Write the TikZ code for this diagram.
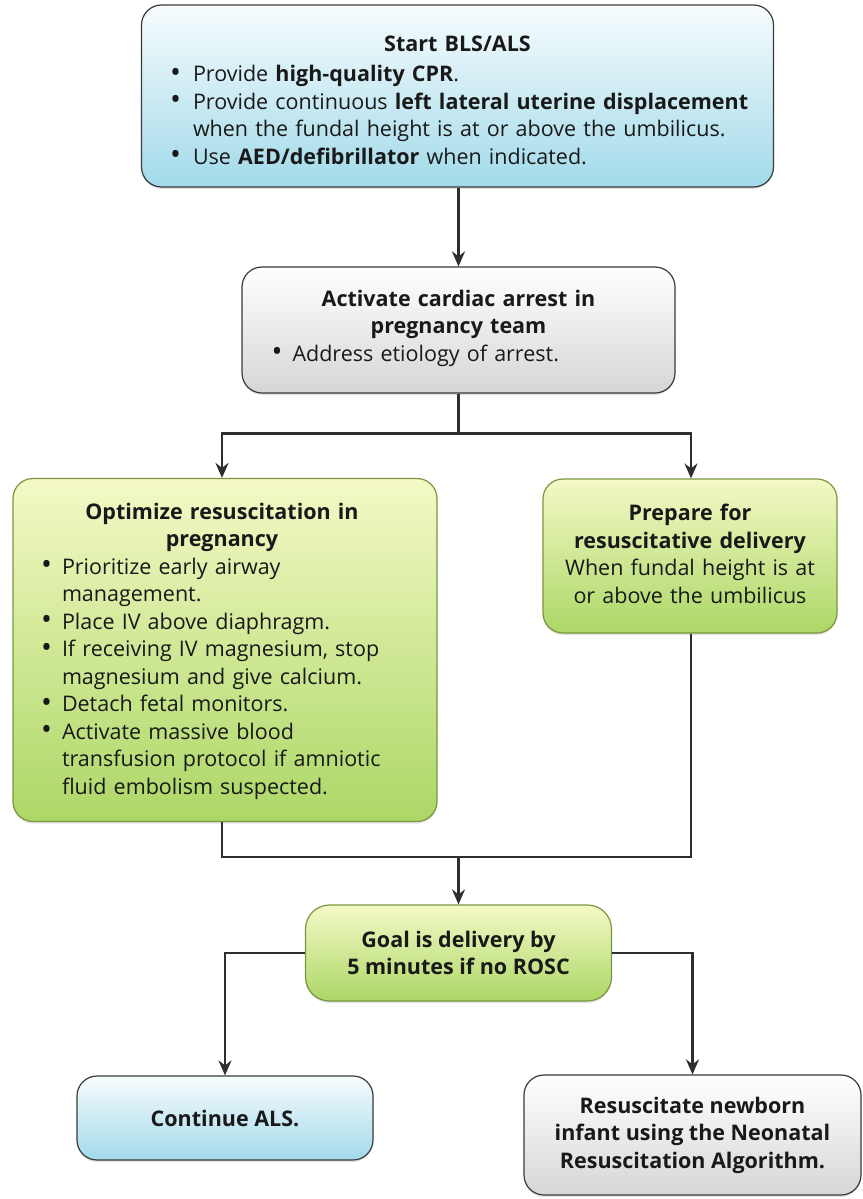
\documentclass[tikz,border=0pt]{standalone}
\usepackage{fontspec}
\setmainfont{Open Sans}
\usepackage{graphicx}
\usepackage{enumitem}
\usetikzlibrary{arrows.meta,shadows,calc}
\definecolor{edge}{HTML}{3A3A3A}
\definecolor{blueT}{HTML}{F7FCFD}
\definecolor{blueB}{HTML}{A2DAEA}
\definecolor{grayT}{HTML}{FFFFFF}
\definecolor{grayB}{HTML}{D4D6D8}
\definecolor{greenT}{HTML}{F4F9C6}
\definecolor{greenB}{HTML}{ACD766}
\definecolor{greenE}{HTML}{7A9640}
\definecolor{arrowc}{HTML}{2E2E2E}
\newlist{blist}{itemize}{1}
\setlist[blist]{label={\raisebox{-0.5pt}{\scalebox{1.35}{\textbullet}}},leftmargin=25pt,labelsep=10pt,itemsep=0pt,topsep=0pt,parsep=0pt,partopsep=0pt}
\tikzset{
  box/.style={draw=edge,line width=1.2pt,rounded corners=20pt,inner sep=0pt,
    drop shadow={shadow xshift=0pt,shadow yshift=-2pt,opacity=0.22}},
  bluebox/.style={box,top color=blueT,bottom color=blueB},
  graybox/.style={box,top color=grayT,bottom color=grayB},
  greenbox/.style={box,draw=greenE,top color=greenT,bottom color=greenB},
  conn/.style={draw=arrowc,line width=2.4pt},
  arr/.style={conn,-{Stealth[length=15pt,width=13pt,inset=5pt]}},
  txt/.style={font=\fontsize{21.5}{27.5}\selectfont,text=black!90},
  btxt/.style={font=\fontsize{21.5}{27.5}\selectfont\bfseries,text=black!90,align=center}
}
\begin{document}
\begin{tikzpicture}[x=1pt,y=-1pt]
\useasboundingbox (0,0) rectangle (862,1199);
\fill[white] (0,0) rectangle (862,1199);

% boxes
\node[bluebox,minimum width=632pt,minimum height=182pt] (start) at (457.5,96) {};
\node[txt,text width=590pt,align=left] (startT) at (457.5,100) {%
  {\centering\bfseries Start BLS/ALS\par}\vspace{3pt}
  \begin{blist}[leftmargin=30.5pt,labelsep=12pt]
  \item Provide \textbf{high-quality CPR}.
  \item Provide continuous \textbf{left lateral uterine displacement}\\ when the fundal height is at or above the umbilicus.
  \item Use \textbf{AED/defibrillator} when indicated.
  \end{blist}};

\node[graybox,minimum width=433pt,minimum height=126pt] (team) at (458.5,330) {};
\node[txt,text width=400pt,align=left] (teamT) at (458.5,328) {%
  {\centering\bfseries Activate cardiac arrest in\\ pregnancy team\par}
  \begin{blist}[leftmargin=34pt]
  \item Address etiology of arrest.
  \end{blist}};

\node[greenbox,minimum width=424pt,minimum height=343pt] (opt) at (225,650) {};
\node[txt,text width=370pt,align=left] (optT) at (222,651) {%
  {\centering\bfseries Optimize resuscitation in\\ pregnancy\par}
  \begin{blist}
  \item Prioritize early airway\\ management.
  \item Place IV above diaphragm.
  \item If receiving IV magnesium, stop\\ magnesium and give calcium.
  \item Detach fetal monitors.
  \item Activate massive blood\\ transfusion protocol if amniotic\\ fluid embolism suspected.
  \end{blist}};

\node[greenbox,minimum width=294pt,minimum height=154pt] (prep) at (690,556) {};
\node[txt,text width=290pt,align=center] (prepT) at (690,554) {%
  \textbf{Prepare for}\\ \textbf{resuscitative delivery}\\ When fundal height is at\\ or above the umbilicus};

\node[greenbox,minimum width=306pt,minimum height=96pt,rounded corners=24pt] (goal) at (458.5,953) {};
\node[btxt] (goalT) at (458.5,953) {Goal is delivery by\\ 5 minutes if no ROSC};

\node[bluebox,minimum width=296pt,minimum height=84pt] (als) at (225,1118) {};
\node[btxt] (alsT) at (225,1118) {Continue ALS.};

\node[graybox,minimum width=337pt,minimum height=120pt] (nrp) at (692.5,1135) {};
\node[btxt] (nrpT) at (692.5,1135) {Resuscitate newborn\\ infant using the Neonatal\\ Resuscitation Algorithm.};

% connectors
\coordinate (split) at ($(team.south)+(0,40)$);
\coordinate (merge) at (458.5,857);
\path[arr] (start.south -| team.north) -- (team.north);
\path[conn] (team.south) -- (split);
\path[arr] (split) -| ($(opt.north)+(-3,0)$);
\path[arr] (split) -| ($(prep.north)+(1,0)$);
\path[conn] ($(opt.south)+(-3,0)$) |- (merge);
\path[conn] ($(prep.south)+(1,0)$) |- (merge);
\path[arr] (merge) -- (goal.north);
\path[arr] (goal.west) -| (als.north);
\path[arr] (goal.east) -| (nrp.north);
\end{tikzpicture}
\end{document}
